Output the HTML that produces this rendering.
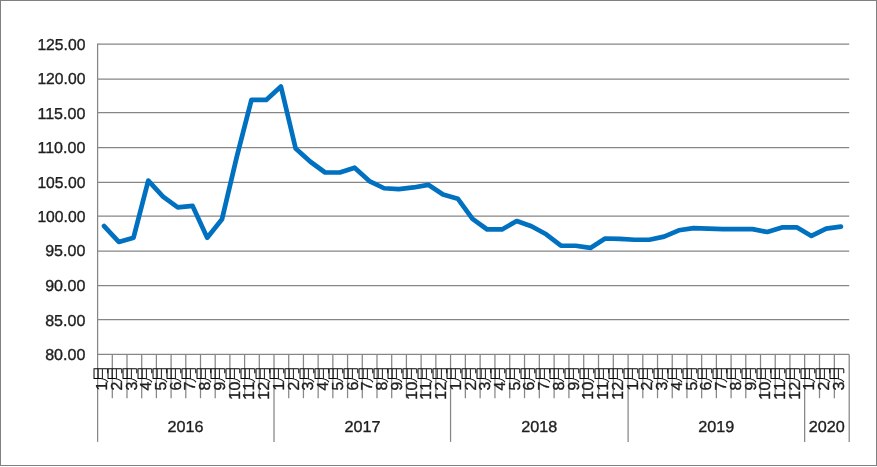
<!DOCTYPE html>
<html lang="zh"><head><meta charset="utf-8"><title>chart</title>
<style>html,body{margin:0;padding:0;background:#fff}svg{display:block}text{text-rendering:geometricPrecision;font-family:"Liberation Sans","Noto Sans CJK SC",sans-serif;fill:#1f1f1f;stroke:#1f1f1f;stroke-width:0.35px}.h{text-rendering:geometricPrecision}.m{font-family:"Liberation Sans","Noto Sans CJK SC",sans-serif;font-size:17.2px;font-weight:300;fill:#000;stroke:#000;stroke-width:0.15px}</style></head><body>
<svg width="877" height="467" viewBox="0 0 877 467">
<rect x="0" y="0" width="877" height="467" fill="#fff"/>
<rect x="0.5" y="0.5" width="876" height="465" fill="none" stroke="#808080" stroke-width="1"/>
<line x1="97.60" y1="44.20" x2="849.20" y2="44.20" stroke="#868686" stroke-width="1.25"/>
<line x1="97.60" y1="79.00" x2="849.20" y2="79.00" stroke="#868686" stroke-width="1.25"/>
<line x1="97.60" y1="112.50" x2="849.20" y2="112.50" stroke="#868686" stroke-width="1.25"/>
<line x1="97.60" y1="147.50" x2="849.20" y2="147.50" stroke="#868686" stroke-width="1.25"/>
<line x1="97.60" y1="182.40" x2="849.20" y2="182.40" stroke="#868686" stroke-width="1.25"/>
<line x1="97.60" y1="216.15" x2="849.20" y2="216.15" stroke="#868686" stroke-width="1.25"/>
<line x1="97.60" y1="251.00" x2="849.20" y2="251.00" stroke="#868686" stroke-width="1.25"/>
<line x1="97.60" y1="285.60" x2="849.20" y2="285.60" stroke="#868686" stroke-width="1.25"/>
<line x1="97.60" y1="319.50" x2="849.20" y2="319.50" stroke="#868686" stroke-width="1.25"/>
<line x1="97.00" y1="354.40" x2="849.20" y2="354.40" stroke="#868686" stroke-width="1.25"/>
<line x1="97.60" y1="43.60" x2="97.60" y2="354.40" stroke="#868686" stroke-width="1.25"/>
<line x1="97.60" y1="354.40" x2="97.60" y2="441.90" stroke="#868686" stroke-width="1.25"/>
<line x1="112.30" y1="354.40" x2="112.30" y2="398.20" stroke="#868686" stroke-width="1.25"/>
<line x1="127.00" y1="354.40" x2="127.00" y2="398.20" stroke="#868686" stroke-width="1.25"/>
<line x1="141.70" y1="354.40" x2="141.70" y2="398.20" stroke="#868686" stroke-width="1.25"/>
<line x1="156.40" y1="354.40" x2="156.40" y2="398.20" stroke="#868686" stroke-width="1.25"/>
<line x1="171.10" y1="354.40" x2="171.10" y2="398.20" stroke="#868686" stroke-width="1.25"/>
<line x1="185.80" y1="354.40" x2="185.80" y2="398.20" stroke="#868686" stroke-width="1.25"/>
<line x1="200.50" y1="354.40" x2="200.50" y2="398.20" stroke="#868686" stroke-width="1.25"/>
<line x1="215.20" y1="354.40" x2="215.20" y2="398.20" stroke="#868686" stroke-width="1.25"/>
<line x1="229.90" y1="354.40" x2="229.90" y2="398.20" stroke="#868686" stroke-width="1.25"/>
<line x1="244.60" y1="354.40" x2="244.60" y2="398.20" stroke="#868686" stroke-width="1.25"/>
<line x1="259.30" y1="354.40" x2="259.30" y2="398.20" stroke="#868686" stroke-width="1.25"/>
<line x1="274.00" y1="354.40" x2="274.00" y2="441.90" stroke="#868686" stroke-width="1.25"/>
<line x1="288.71" y1="354.40" x2="288.71" y2="398.20" stroke="#868686" stroke-width="1.25"/>
<line x1="303.43" y1="354.40" x2="303.43" y2="398.20" stroke="#868686" stroke-width="1.25"/>
<line x1="318.14" y1="354.40" x2="318.14" y2="398.20" stroke="#868686" stroke-width="1.25"/>
<line x1="332.85" y1="354.40" x2="332.85" y2="398.20" stroke="#868686" stroke-width="1.25"/>
<line x1="347.56" y1="354.40" x2="347.56" y2="398.20" stroke="#868686" stroke-width="1.25"/>
<line x1="362.28" y1="354.40" x2="362.28" y2="398.20" stroke="#868686" stroke-width="1.25"/>
<line x1="376.99" y1="354.40" x2="376.99" y2="398.20" stroke="#868686" stroke-width="1.25"/>
<line x1="391.70" y1="354.40" x2="391.70" y2="398.20" stroke="#868686" stroke-width="1.25"/>
<line x1="406.41" y1="354.40" x2="406.41" y2="398.20" stroke="#868686" stroke-width="1.25"/>
<line x1="421.12" y1="354.40" x2="421.12" y2="398.20" stroke="#868686" stroke-width="1.25"/>
<line x1="435.84" y1="354.40" x2="435.84" y2="398.20" stroke="#868686" stroke-width="1.25"/>
<line x1="450.55" y1="354.40" x2="450.55" y2="441.90" stroke="#868686" stroke-width="1.25"/>
<line x1="465.35" y1="354.40" x2="465.35" y2="398.20" stroke="#868686" stroke-width="1.25"/>
<line x1="480.14" y1="354.40" x2="480.14" y2="398.20" stroke="#868686" stroke-width="1.25"/>
<line x1="494.94" y1="354.40" x2="494.94" y2="398.20" stroke="#868686" stroke-width="1.25"/>
<line x1="509.73" y1="354.40" x2="509.73" y2="398.20" stroke="#868686" stroke-width="1.25"/>
<line x1="524.53" y1="354.40" x2="524.53" y2="398.20" stroke="#868686" stroke-width="1.25"/>
<line x1="539.33" y1="354.40" x2="539.33" y2="398.20" stroke="#868686" stroke-width="1.25"/>
<line x1="554.12" y1="354.40" x2="554.12" y2="398.20" stroke="#868686" stroke-width="1.25"/>
<line x1="568.92" y1="354.40" x2="568.92" y2="398.20" stroke="#868686" stroke-width="1.25"/>
<line x1="583.71" y1="354.40" x2="583.71" y2="398.20" stroke="#868686" stroke-width="1.25"/>
<line x1="598.51" y1="354.40" x2="598.51" y2="398.20" stroke="#868686" stroke-width="1.25"/>
<line x1="613.30" y1="354.40" x2="613.30" y2="398.20" stroke="#868686" stroke-width="1.25"/>
<line x1="628.10" y1="354.40" x2="628.10" y2="441.90" stroke="#868686" stroke-width="1.25"/>
<line x1="642.81" y1="354.40" x2="642.81" y2="398.20" stroke="#868686" stroke-width="1.25"/>
<line x1="657.52" y1="354.40" x2="657.52" y2="398.20" stroke="#868686" stroke-width="1.25"/>
<line x1="672.24" y1="354.40" x2="672.24" y2="398.20" stroke="#868686" stroke-width="1.25"/>
<line x1="686.95" y1="354.40" x2="686.95" y2="398.20" stroke="#868686" stroke-width="1.25"/>
<line x1="701.66" y1="354.40" x2="701.66" y2="398.20" stroke="#868686" stroke-width="1.25"/>
<line x1="716.38" y1="354.40" x2="716.38" y2="398.20" stroke="#868686" stroke-width="1.25"/>
<line x1="731.09" y1="354.40" x2="731.09" y2="398.20" stroke="#868686" stroke-width="1.25"/>
<line x1="745.80" y1="354.40" x2="745.80" y2="398.20" stroke="#868686" stroke-width="1.25"/>
<line x1="760.51" y1="354.40" x2="760.51" y2="398.20" stroke="#868686" stroke-width="1.25"/>
<line x1="775.23" y1="354.40" x2="775.23" y2="398.20" stroke="#868686" stroke-width="1.25"/>
<line x1="789.94" y1="354.40" x2="789.94" y2="398.20" stroke="#868686" stroke-width="1.25"/>
<line x1="804.65" y1="354.40" x2="804.65" y2="441.90" stroke="#868686" stroke-width="1.25"/>
<line x1="819.50" y1="354.40" x2="819.50" y2="398.20" stroke="#868686" stroke-width="1.25"/>
<line x1="834.35" y1="354.40" x2="834.35" y2="398.20" stroke="#868686" stroke-width="1.25"/>
<line x1="849.20" y1="354.40" x2="849.20" y2="441.90" stroke="#868686" stroke-width="1.25"/>
<text class="h" x="37.40" y="50.00" font-size="15.9" textLength="48.0" lengthAdjust="spacingAndGlyphs">125.00</text>
<text class="h" x="37.40" y="84.00" font-size="15.9" textLength="48.0" lengthAdjust="spacingAndGlyphs">120.00</text>
<text class="h" x="37.40" y="119.00" font-size="15.9" textLength="48.0" lengthAdjust="spacingAndGlyphs">115.00</text>
<text class="h" x="37.40" y="153.00" font-size="15.9" textLength="48.0" lengthAdjust="spacingAndGlyphs">110.00</text>
<text class="h" x="37.40" y="188.00" font-size="15.9" textLength="48.0" lengthAdjust="spacingAndGlyphs">105.00</text>
<text class="h" x="37.40" y="222.00" font-size="15.9" textLength="48.0" lengthAdjust="spacingAndGlyphs">100.00</text>
<text class="h" x="45.20" y="256.00" font-size="15.9" textLength="40.2" lengthAdjust="spacingAndGlyphs">95.00</text>
<text class="h" x="45.20" y="291.00" font-size="15.9" textLength="40.2" lengthAdjust="spacingAndGlyphs">90.00</text>
<text class="h" x="45.20" y="326.00" font-size="15.9" textLength="40.2" lengthAdjust="spacingAndGlyphs">85.00</text>
<text class="h" x="45.20" y="360.00" font-size="15.9" textLength="40.2" lengthAdjust="spacingAndGlyphs">80.00</text>
<text transform="translate(107.07,0) rotate(-90)" font-size="15.9"><tspan x="-390.60">1</tspan><tspan class="m" x="-383.00" dy="-0.5" textLength="18.3" lengthAdjust="spacingAndGlyphs">月</tspan></text>
<text transform="translate(121.81,0) rotate(-90)" font-size="15.9"><tspan x="-390.60">2</tspan><tspan class="m" x="-383.00" dy="-0.5" textLength="18.3" lengthAdjust="spacingAndGlyphs">月</tspan></text>
<text transform="translate(136.54,0) rotate(-90)" font-size="15.9"><tspan x="-390.60">3</tspan><tspan class="m" x="-383.00" dy="-0.5" textLength="18.3" lengthAdjust="spacingAndGlyphs">月</tspan></text>
<text transform="translate(151.28,0) rotate(-90)" font-size="15.9"><tspan x="-390.60">4</tspan><tspan class="m" x="-383.00" dy="-0.5" textLength="18.3" lengthAdjust="spacingAndGlyphs">月</tspan></text>
<text transform="translate(166.02,0) rotate(-90)" font-size="15.9"><tspan x="-390.60">5</tspan><tspan class="m" x="-383.00" dy="-0.5" textLength="18.3" lengthAdjust="spacingAndGlyphs">月</tspan></text>
<text transform="translate(180.75,0) rotate(-90)" font-size="15.9"><tspan x="-390.60">6</tspan><tspan class="m" x="-383.00" dy="-0.5" textLength="18.3" lengthAdjust="spacingAndGlyphs">月</tspan></text>
<text transform="translate(195.49,0) rotate(-90)" font-size="15.9"><tspan x="-390.60">7</tspan><tspan class="m" x="-383.00" dy="-0.5" textLength="18.3" lengthAdjust="spacingAndGlyphs">月</tspan></text>
<text transform="translate(210.23,0) rotate(-90)" font-size="15.9"><tspan x="-390.60">8</tspan><tspan class="m" x="-383.00" dy="-0.5" textLength="18.3" lengthAdjust="spacingAndGlyphs">月</tspan></text>
<text transform="translate(224.97,0) rotate(-90)" font-size="15.9"><tspan x="-390.60">9</tspan><tspan class="m" x="-383.00" dy="-0.5" textLength="18.3" lengthAdjust="spacingAndGlyphs">月</tspan></text>
<text transform="translate(239.70,0) rotate(-90)" font-size="15.9"><tspan x="-399.80 -390.60">10</tspan><tspan class="m" x="-383.00" dy="-0.5" textLength="18.3" lengthAdjust="spacingAndGlyphs">月</tspan></text>
<text transform="translate(254.44,0) rotate(-90)" font-size="15.9"><tspan x="-399.80 -390.60">11</tspan><tspan class="m" x="-383.00" dy="-0.5" textLength="18.3" lengthAdjust="spacingAndGlyphs">月</tspan></text>
<text transform="translate(269.18,0) rotate(-90)" font-size="15.9"><tspan x="-399.80 -390.60">12</tspan><tspan class="m" x="-383.00" dy="-0.5" textLength="18.3" lengthAdjust="spacingAndGlyphs">月</tspan></text>
<text transform="translate(283.92,0) rotate(-90)" font-size="15.9"><tspan x="-390.60">1</tspan><tspan class="m" x="-383.00" dy="-0.5" textLength="18.3" lengthAdjust="spacingAndGlyphs">月</tspan></text>
<text transform="translate(298.65,0) rotate(-90)" font-size="15.9"><tspan x="-390.60">2</tspan><tspan class="m" x="-383.00" dy="-0.5" textLength="18.3" lengthAdjust="spacingAndGlyphs">月</tspan></text>
<text transform="translate(313.39,0) rotate(-90)" font-size="15.9"><tspan x="-390.60">3</tspan><tspan class="m" x="-383.00" dy="-0.5" textLength="18.3" lengthAdjust="spacingAndGlyphs">月</tspan></text>
<text transform="translate(328.13,0) rotate(-90)" font-size="15.9"><tspan x="-390.60">4</tspan><tspan class="m" x="-383.00" dy="-0.5" textLength="18.3" lengthAdjust="spacingAndGlyphs">月</tspan></text>
<text transform="translate(342.86,0) rotate(-90)" font-size="15.9"><tspan x="-390.60">5</tspan><tspan class="m" x="-383.00" dy="-0.5" textLength="18.3" lengthAdjust="spacingAndGlyphs">月</tspan></text>
<text transform="translate(357.60,0) rotate(-90)" font-size="15.9"><tspan x="-390.60">6</tspan><tspan class="m" x="-383.00" dy="-0.5" textLength="18.3" lengthAdjust="spacingAndGlyphs">月</tspan></text>
<text transform="translate(372.34,0) rotate(-90)" font-size="15.9"><tspan x="-390.60">7</tspan><tspan class="m" x="-383.00" dy="-0.5" textLength="18.3" lengthAdjust="spacingAndGlyphs">月</tspan></text>
<text transform="translate(387.08,0) rotate(-90)" font-size="15.9"><tspan x="-390.60">8</tspan><tspan class="m" x="-383.00" dy="-0.5" textLength="18.3" lengthAdjust="spacingAndGlyphs">月</tspan></text>
<text transform="translate(401.81,0) rotate(-90)" font-size="15.9"><tspan x="-390.60">9</tspan><tspan class="m" x="-383.00" dy="-0.5" textLength="18.3" lengthAdjust="spacingAndGlyphs">月</tspan></text>
<text transform="translate(416.55,0) rotate(-90)" font-size="15.9"><tspan x="-399.80 -390.60">10</tspan><tspan class="m" x="-383.00" dy="-0.5" textLength="18.3" lengthAdjust="spacingAndGlyphs">月</tspan></text>
<text transform="translate(431.29,0) rotate(-90)" font-size="15.9"><tspan x="-399.80 -390.60">11</tspan><tspan class="m" x="-383.00" dy="-0.5" textLength="18.3" lengthAdjust="spacingAndGlyphs">月</tspan></text>
<text transform="translate(446.03,0) rotate(-90)" font-size="15.9"><tspan x="-399.80 -390.60">12</tspan><tspan class="m" x="-383.00" dy="-0.5" textLength="18.3" lengthAdjust="spacingAndGlyphs">月</tspan></text>
<text transform="translate(460.76,0) rotate(-90)" font-size="15.9"><tspan x="-390.60">1</tspan><tspan class="m" x="-383.00" dy="-0.5" textLength="18.3" lengthAdjust="spacingAndGlyphs">月</tspan></text>
<text transform="translate(475.50,0) rotate(-90)" font-size="15.9"><tspan x="-390.60">2</tspan><tspan class="m" x="-383.00" dy="-0.5" textLength="18.3" lengthAdjust="spacingAndGlyphs">月</tspan></text>
<text transform="translate(490.24,0) rotate(-90)" font-size="15.9"><tspan x="-390.60">3</tspan><tspan class="m" x="-383.00" dy="-0.5" textLength="18.3" lengthAdjust="spacingAndGlyphs">月</tspan></text>
<text transform="translate(504.97,0) rotate(-90)" font-size="15.9"><tspan x="-390.60">4</tspan><tspan class="m" x="-383.00" dy="-0.5" textLength="18.3" lengthAdjust="spacingAndGlyphs">月</tspan></text>
<text transform="translate(519.71,0) rotate(-90)" font-size="15.9"><tspan x="-390.60">5</tspan><tspan class="m" x="-383.00" dy="-0.5" textLength="18.3" lengthAdjust="spacingAndGlyphs">月</tspan></text>
<text transform="translate(534.45,0) rotate(-90)" font-size="15.9"><tspan x="-390.60">6</tspan><tspan class="m" x="-383.00" dy="-0.5" textLength="18.3" lengthAdjust="spacingAndGlyphs">月</tspan></text>
<text transform="translate(549.19,0) rotate(-90)" font-size="15.9"><tspan x="-390.60">7</tspan><tspan class="m" x="-383.00" dy="-0.5" textLength="18.3" lengthAdjust="spacingAndGlyphs">月</tspan></text>
<text transform="translate(563.92,0) rotate(-90)" font-size="15.9"><tspan x="-390.60">8</tspan><tspan class="m" x="-383.00" dy="-0.5" textLength="18.3" lengthAdjust="spacingAndGlyphs">月</tspan></text>
<text transform="translate(578.66,0) rotate(-90)" font-size="15.9"><tspan x="-390.60">9</tspan><tspan class="m" x="-383.00" dy="-0.5" textLength="18.3" lengthAdjust="spacingAndGlyphs">月</tspan></text>
<text transform="translate(593.40,0) rotate(-90)" font-size="15.9"><tspan x="-399.80 -390.60">10</tspan><tspan class="m" x="-383.00" dy="-0.5" textLength="18.3" lengthAdjust="spacingAndGlyphs">月</tspan></text>
<text transform="translate(608.14,0) rotate(-90)" font-size="15.9"><tspan x="-399.80 -390.60">11</tspan><tspan class="m" x="-383.00" dy="-0.5" textLength="18.3" lengthAdjust="spacingAndGlyphs">月</tspan></text>
<text transform="translate(622.87,0) rotate(-90)" font-size="15.9"><tspan x="-399.80 -390.60">12</tspan><tspan class="m" x="-383.00" dy="-0.5" textLength="18.3" lengthAdjust="spacingAndGlyphs">月</tspan></text>
<text transform="translate(637.61,0) rotate(-90)" font-size="15.9"><tspan x="-390.60">1</tspan><tspan class="m" x="-383.00" dy="-0.5" textLength="18.3" lengthAdjust="spacingAndGlyphs">月</tspan></text>
<text transform="translate(652.35,0) rotate(-90)" font-size="15.9"><tspan x="-390.60">2</tspan><tspan class="m" x="-383.00" dy="-0.5" textLength="18.3" lengthAdjust="spacingAndGlyphs">月</tspan></text>
<text transform="translate(667.08,0) rotate(-90)" font-size="15.9"><tspan x="-390.60">3</tspan><tspan class="m" x="-383.00" dy="-0.5" textLength="18.3" lengthAdjust="spacingAndGlyphs">月</tspan></text>
<text transform="translate(681.82,0) rotate(-90)" font-size="15.9"><tspan x="-390.60">4</tspan><tspan class="m" x="-383.00" dy="-0.5" textLength="18.3" lengthAdjust="spacingAndGlyphs">月</tspan></text>
<text transform="translate(696.56,0) rotate(-90)" font-size="15.9"><tspan x="-390.60">5</tspan><tspan class="m" x="-383.00" dy="-0.5" textLength="18.3" lengthAdjust="spacingAndGlyphs">月</tspan></text>
<text transform="translate(711.30,0) rotate(-90)" font-size="15.9"><tspan x="-390.60">6</tspan><tspan class="m" x="-383.00" dy="-0.5" textLength="18.3" lengthAdjust="spacingAndGlyphs">月</tspan></text>
<text transform="translate(726.03,0) rotate(-90)" font-size="15.9"><tspan x="-390.60">7</tspan><tspan class="m" x="-383.00" dy="-0.5" textLength="18.3" lengthAdjust="spacingAndGlyphs">月</tspan></text>
<text transform="translate(740.77,0) rotate(-90)" font-size="15.9"><tspan x="-390.60">8</tspan><tspan class="m" x="-383.00" dy="-0.5" textLength="18.3" lengthAdjust="spacingAndGlyphs">月</tspan></text>
<text transform="translate(755.51,0) rotate(-90)" font-size="15.9"><tspan x="-390.60">9</tspan><tspan class="m" x="-383.00" dy="-0.5" textLength="18.3" lengthAdjust="spacingAndGlyphs">月</tspan></text>
<text transform="translate(770.25,0) rotate(-90)" font-size="15.9"><tspan x="-399.80 -390.60">10</tspan><tspan class="m" x="-383.00" dy="-0.5" textLength="18.3" lengthAdjust="spacingAndGlyphs">月</tspan></text>
<text transform="translate(784.98,0) rotate(-90)" font-size="15.9"><tspan x="-399.80 -390.60">11</tspan><tspan class="m" x="-383.00" dy="-0.5" textLength="18.3" lengthAdjust="spacingAndGlyphs">月</tspan></text>
<text transform="translate(799.72,0) rotate(-90)" font-size="15.9"><tspan x="-399.80 -390.60">12</tspan><tspan class="m" x="-383.00" dy="-0.5" textLength="18.3" lengthAdjust="spacingAndGlyphs">月</tspan></text>
<text transform="translate(814.46,0) rotate(-90)" font-size="15.9"><tspan x="-390.60">1</tspan><tspan class="m" x="-383.00" dy="-0.5" textLength="18.3" lengthAdjust="spacingAndGlyphs">月</tspan></text>
<text transform="translate(829.19,0) rotate(-90)" font-size="15.9"><tspan x="-390.60">2</tspan><tspan class="m" x="-383.00" dy="-0.5" textLength="18.3" lengthAdjust="spacingAndGlyphs">月</tspan></text>
<text transform="translate(843.93,0) rotate(-90)" font-size="15.9"><tspan x="-390.60">3</tspan><tspan class="m" x="-383.00" dy="-0.5" textLength="18.3" lengthAdjust="spacingAndGlyphs">月</tspan></text>
<text class="h" x="167.62" y="431.9" font-size="15.9" textLength="36.0" lengthAdjust="spacingAndGlyphs">2016</text>
<text class="h" x="344.47" y="431.9" font-size="15.9" textLength="36.0" lengthAdjust="spacingAndGlyphs">2017</text>
<text class="h" x="521.32" y="431.9" font-size="15.9" textLength="36.0" lengthAdjust="spacingAndGlyphs">2018</text>
<text class="h" x="698.16" y="431.9" font-size="15.9" textLength="36.0" lengthAdjust="spacingAndGlyphs">2019</text>
<text class="h" x="808.69" y="431.9" font-size="15.9" textLength="36.0" lengthAdjust="spacingAndGlyphs">2020</text>
<polyline points="104.07,226.03 118.81,241.94 133.54,237.67 148.28,180.54 163.02,196.60 177.75,207.42 192.49,205.83 207.23,237.74 221.97,219.34 236.70,157.11 251.44,99.92 266.18,99.92 280.92,86.48 295.65,148.50 310.39,161.73 325.13,172.48 339.86,172.48 354.60,167.73 369.34,181.03 384.08,188.26 398.81,189.09 413.55,187.44 428.29,184.82 443.03,194.53 457.76,198.67 472.50,218.86 487.24,229.47 501.97,229.47 516.71,221.06 531.45,226.23 546.19,234.29 560.92,245.60 575.66,245.73 590.40,247.94 605.14,238.50 619.87,238.84 634.61,239.74 649.35,239.74 664.08,236.64 678.82,230.30 693.56,228.09 708.30,228.58 723.03,229.13 737.77,229.13 752.51,229.13 767.25,232.02 781.98,227.40 796.72,227.27 811.46,235.95 826.19,228.58 840.93,226.58" fill="none" stroke="#0070c0" stroke-width="4.7" stroke-linejoin="round" stroke-linecap="round"/>
</svg></body></html>
